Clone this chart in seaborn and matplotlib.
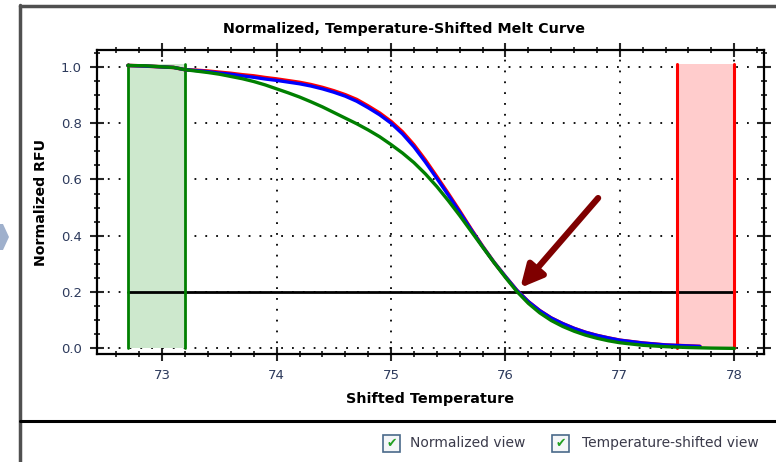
import numpy as np
import pandas as pd
import matplotlib
matplotlib.use("Agg")
import matplotlib.pyplot as plt
import seaborn as sns
from matplotlib.lines import Line2D
from matplotlib.patches import Rectangle, Polygon
from matplotlib.ticker import MultipleLocator

# ---------------- data ----------------
temp_blue = [72.70, 72.85, 73.00, 73.10, 73.20, 73.30, 73.40, 73.50, 73.60, 73.70, 73.80,
             73.90, 74.00, 74.10, 74.20, 74.30, 74.40, 74.50, 74.60, 74.70, 74.80, 74.90,
             75.00, 75.10, 75.20, 75.30, 75.40, 75.50, 75.60, 75.70, 75.80, 75.90, 76.00,
             76.10, 76.20, 76.30, 76.40, 76.50, 76.60, 76.70, 76.80, 76.90, 77.00, 77.20,
             77.40, 77.70]
rfu_blue = [1.005, 1.003, 1.000, 0.998, 0.990, 0.987, 0.983, 0.978, 0.974, 0.968, 0.963,
            0.957, 0.952, 0.946, 0.940, 0.932, 0.922, 0.910, 0.896, 0.878, 0.855, 0.830,
            0.800, 0.762, 0.716, 0.662, 0.604, 0.545, 0.484, 0.422, 0.362, 0.306, 0.255,
            0.206, 0.166, 0.134, 0.108, 0.088, 0.071, 0.057, 0.046, 0.037, 0.029, 0.019,
            0.012, 0.007]

temp_red = [72.70, 72.85, 73.00, 73.10, 73.20, 73.30, 73.40, 73.50, 73.60, 73.70, 73.80,
            73.90, 74.00, 74.10, 74.20, 74.30, 74.40, 74.50, 74.60, 74.70, 74.80, 74.90,
            75.00, 75.10, 75.20, 75.30, 75.40, 75.50, 75.60, 75.70, 75.80, 75.90, 76.00,
            76.10, 76.20, 76.30, 76.40, 76.50, 76.60, 76.70, 76.80, 76.90, 77.00, 77.20,
            77.40, 77.70]
rfu_red = [1.005, 1.003, 1.000, 0.998, 0.990, 0.988, 0.985, 0.981, 0.977, 0.972, 0.968,
           0.962, 0.957, 0.951, 0.945, 0.937, 0.927, 0.915, 0.901, 0.884, 0.861, 0.836,
           0.806, 0.769, 0.723, 0.669, 0.610, 0.550, 0.488, 0.424, 0.363, 0.306, 0.255,
           0.206, 0.166, 0.134, 0.108, 0.088, 0.071, 0.057, 0.046, 0.037, 0.029, 0.019,
           0.012, 0.007]

temp_green = [72.70, 72.85, 73.00, 73.10, 73.20, 73.30, 73.40, 73.50, 73.60, 73.70, 73.80,
              73.90, 74.00, 74.10, 74.20, 74.30, 74.40, 74.50, 74.60, 74.70, 74.80, 74.90,
              75.00, 75.10, 75.20, 75.30, 75.40, 75.50, 75.60, 75.70, 75.80, 75.90, 76.00,
              76.10, 76.20, 76.30, 76.40, 76.50, 76.60, 76.70, 76.80, 76.90, 77.00, 77.20,
              77.40, 77.60, 77.80, 78.00]
rfu_green = [1.005, 1.004, 1.000, 0.998, 0.990, 0.985, 0.980, 0.974, 0.966, 0.958, 0.948,
             0.936, 0.922, 0.908, 0.893, 0.876, 0.858, 0.838, 0.818, 0.798, 0.776, 0.752,
             0.724, 0.694, 0.660, 0.620, 0.575, 0.525, 0.472, 0.416, 0.360, 0.305, 0.252,
             0.202, 0.160, 0.126, 0.099, 0.078, 0.061, 0.047, 0.036, 0.027, 0.020, 0.011,
             0.006, 0.003, 0.001, 0.000]

low_region = [72.7, 73.2]     # green shaded normalization region
high_region = [77.5, 78.0]    # red shaded normalization region
region_top = 1.01
threshold = 0.2
threshold_span = [72.7, 78.0]
arrow_tail = (76.81, 0.534)
arrow_tip = (76.13, 0.215)

x_ticks = [73, 74, 75, 76, 77, 78]
y_ticks = [0.0, 0.2, 0.4, 0.6, 0.8, 1.0]

title = "Normalized, Temperature-Shifted Melt Curve"
xlabel = "Shifted Temperature"
ylabel = "Normalized RFU"
check_labels = ["Normalized view", "Temperature-shifted view"]

# ---------------- figure ----------------
sns.set_theme(style="white")
plt.rcParams['font.family'] = ['DejaVu Sans']

W, H = 776, 462
fig = plt.figure(figsize=(W / 100, H / 100), dpi=100)
fig.patch.set_facecolor("white")

ax = fig.add_axes([97 / W, 1 - 354 / H, (764 - 97) / W, (354 - 50) / H])
ax.set_facecolor("white")

# shaded regions
ax.fill_between(low_region, [0, 0], [region_top, region_top], color="#cde8cd", zorder=1, lw=0)
ax.fill_between(high_region, [0, 0], [region_top, region_top], color="#ffcccc", zorder=1, lw=0)
for xv in low_region:
    ax.plot([xv, xv], [0, region_top], color="#008000", lw=2.0, zorder=4)
for xv in high_region:
    ax.plot([xv, xv], [0, region_top], color="#ff0000", lw=2.2, zorder=4)

# threshold line
ax.plot(threshold_span, [threshold, threshold], color="black", lw=2.0, zorder=3)

# curves
df_r = pd.DataFrame({"T": temp_red, "RFU": rfu_red})
df_b = pd.DataFrame({"T": temp_blue, "RFU": rfu_blue})
df_g = pd.DataFrame({"T": temp_green, "RFU": rfu_green})
sns.lineplot(data=df_r, x="T", y="RFU", ax=ax, color="#ff0000", lw=2.6, zorder=5,
             estimator=None, sort=False)
sns.lineplot(data=df_b, x="T", y="RFU", ax=ax, color="#0000ff", lw=2.4, zorder=6,
             estimator=None, sort=False)
sns.lineplot(data=df_g, x="T", y="RFU", ax=ax, color="#008000", lw=2.4, zorder=7,
             estimator=None, sort=False)

# arrow
ax.annotate("", xy=arrow_tip, xytext=arrow_tail,
            arrowprops=dict(arrowstyle="-|>,head_length=1.1,head_width=0.55",
                            color="#7f0000", lw=4.5, shrinkA=0, shrinkB=0),
            zorder=9)

# axes ranges / ticks
ax.set_xlim(72.43, 78.26)
ax.set_ylim(-0.02, 1.06)
ax.set_xticks(x_ticks)
ax.set_xticklabels([str(t) for t in x_ticks])
ax.set_yticks(y_ticks)
ax.set_yticklabels([f"{t:.1f}" for t in y_ticks])
ax.xaxis.set_minor_locator(MultipleLocator(0.2))
ax.yaxis.set_minor_locator(MultipleLocator(0.05))
ax.tick_params(which="major", direction="inout", length=10, width=1.5,
               top=True, right=True, bottom=True, left=True,
               labelsize=9.5, labelcolor="#2d3a5c", pad=6)
ax.tick_params(which="minor", direction="inout", length=5, width=1.3,
               top=True, right=True, bottom=True, left=True)
for s in ax.spines.values():
    s.set_color("black")
    s.set_linewidth(1.6)
    s.set_visible(True)

ax.grid(True, which="major", color="black", linestyle=(0, (1, 5)), lw=1.3)
ax.set_axisbelow(True)

ax.set_xlabel(xlabel, fontsize=10.4, fontweight="bold", color="black", labelpad=7)
ax.set_ylabel(ylabel, fontsize=10.2, fontweight="bold", color="black", labelpad=9)
fig.text(404 / W, 1 - 29 / H, title, ha="center", va="center",
         fontsize=10.3, fontweight="bold", color="black")

# ---------------- window frame decorations ----------------
fig.add_artist(Line2D([20 / W, 20 / W], [0, 1 - 5 / H], transform=fig.transFigure,
                      color="#505050", lw=2.5))
fig.add_artist(Line2D([20 / W, 1], [1 - 6 / H, 1 - 6 / H], transform=fig.transFigure,
                      color="#505050", lw=2.5))
fig.add_artist(Line2D([20 / W, 1], [1 - 421 / H, 1 - 421 / H], transform=fig.transFigure,
                      color="black", lw=2.2))
fig.add_artist(Polygon([[0, 1 - 224 / H], [3 / W, 1 - 224 / H], [9 / W, 1 - 237 / H],
                        [3 / W, 1 - 250 / H], [0, 1 - 250 / H]],
                       closed=True, transform=fig.transFigure, color="#9fb0cc", lw=0))

# checkboxes
boxes = [(383, 410), (552, 582)]
for (bx, tx), lab in zip(boxes, check_labels):
    fig.add_artist(Rectangle((bx / W, 1 - 452 / H), 17 / W, 17 / H,
                             transform=fig.transFigure, facecolor="#f4f6f8",
                             edgecolor="#4a6a8a", lw=1.2))
    fig.text((bx + 8.5) / W, 1 - 443.5 / H, "\u2714", ha="center", va="center",
             fontsize=9, color="#22a022")
    fig.text(tx / W, 1 - 443 / H, lab, ha="left", va="center",
             fontsize=10, color="#3a3a4a")

fig.savefig("out.png", dpi=100, facecolor="white")
